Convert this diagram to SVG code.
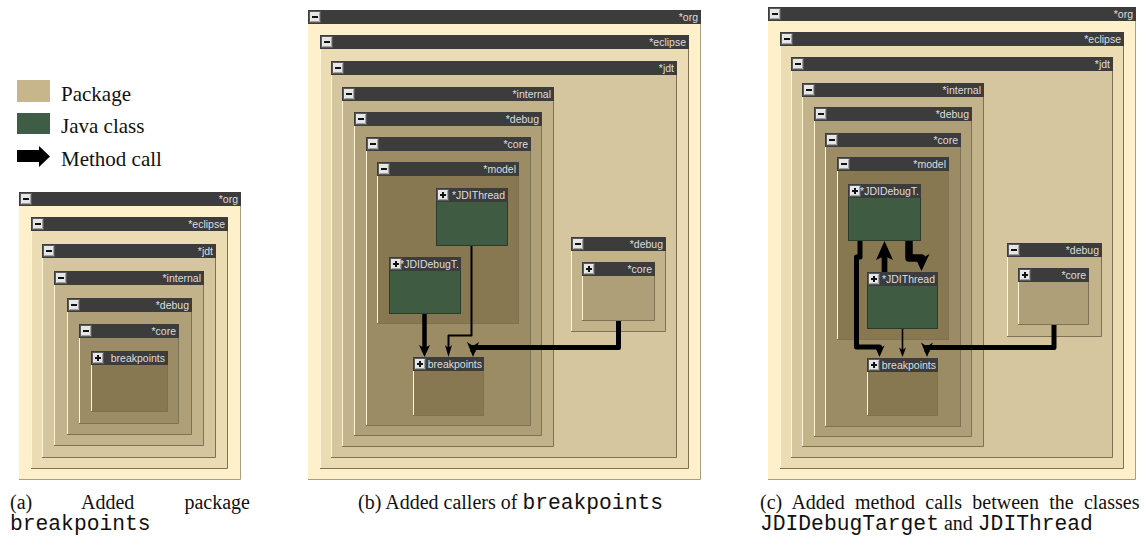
<svg xmlns="http://www.w3.org/2000/svg" xmlns:xlink="http://www.w3.org/1999/xlink" width="1146" height="540" viewBox="0 0 1146 540">
  <style>
    .d0 { fill: #fdf0cb; }
    .d1 { fill: #ecdcb4; }
    .d2 { fill: #d5c6a0; }
    .d3 { fill: #c3b38b; }
    .d4 { fill: #ae9f78; }
    .d5 { fill: #9c8c65; }
    .d6 { fill: #877852; }
    .cls { fill: #3f5c43; }
    .hdr { fill: #3c3c3c; }
    .lt { fill: none; stroke: #fff6d8; stroke-width: 1; }
    .dk { fill: none; stroke: #7e7255; stroke-width: 1; }
    .dk0 { fill: none; stroke: #a89e82; stroke-width: 1; }
    .cdk { fill: none; stroke: #2a3a2c; stroke-width: 1; }
    .lbl { font-family: "Liberation Sans", Arial, sans-serif; font-size: 10.5px; fill: #dedede; text-anchor: end; }
    .wire { fill: none; stroke: #000; stroke-linejoin: round; }
    .head { fill: #000; }
    .key { font-family: "Liberation Serif", "Times New Roman", serif; font-size: 21px; fill: #111; }
    .cap { font-family: "Liberation Serif", "Times New Roman", serif; font-size: 20px; fill: #111; }
    .mono { font-family: "Liberation Mono", "Courier New", monospace; font-size: 21.3px; }
  </style>
  <defs>
    <g id="btn-minus">
      <rect x="0.5" y="0.5" width="11" height="11" fill="#e6e6e6" stroke="#5a5a5a"/>
      <path d="M1.5,10.5H10.5V1.5" fill="none" stroke="#a0a0a0"/>
      <rect x="3" y="5" width="6" height="2" fill="#111"/>
    </g>
    <g id="btn-plus">
      <rect x="0.5" y="0.5" width="11" height="11" fill="#e6e6e6" stroke="#5a5a5a"/>
      <path d="M1.5,10.5H10.5V1.5" fill="none" stroke="#a0a0a0"/>
      <rect x="3" y="5" width="6" height="2" fill="#111"/>
      <rect x="5" y="3" width="2" height="6" fill="#111"/>
    </g>
  </defs>

  <rect width="1146" height="540" fill="#fff"/>

  <!-- legend -->
  <g id="legend">
    <rect x="17" y="80" width="33" height="22" fill="#c7b58b"/>
    <rect x="17" y="113" width="33" height="21" fill="#3f5d45"/>
    <path d="M17,150H39V146L50,156.5L39,167V162H17Z" fill="#000"/>
    <text class="key" x="61" y="101">Package</text>
    <text class="key" x="61" y="133">Java class</text>
    <text class="key" x="61" y="166">Method call</text>
  </g>

  <!-- ===== panel (a) ===== -->
  <g id="a-org">
    <rect class="d0" x="19" y="192" width="222" height="288"/>
    <path class="dk0" d="M19,479.5H240.5V192"/>
    <rect class="hdr" x="19" y="192" width="222" height="14"/>
    <use xlink:href="#btn-minus" x="20" y="193"/>
    <text class="lbl" x="238" y="203">*org</text>
  </g>
  <g id="a-eclipse">
    <rect class="d1" x="31" y="217" width="197" height="252"/>
    <path class="lt" d="M31.5,469V217"/>
    <path class="dk" d="M31,468.5H227.5V217"/>
    <rect class="hdr" x="31" y="217" width="197" height="14"/>
    <use xlink:href="#btn-minus" x="32" y="218"/>
    <text class="lbl" x="225" y="228">*eclipse</text>
  </g>
  <g id="a-jdt">
    <rect class="d2" x="42" y="244" width="174" height="214"/>
    <path class="lt" d="M42.5,458V244"/>
    <path class="dk" d="M42,457.5H215.5V244"/>
    <rect class="hdr" x="42" y="244" width="174" height="14"/>
    <use xlink:href="#btn-minus" x="43" y="245"/>
    <text class="lbl" x="213" y="255">*jdt</text>
  </g>
  <g id="a-internal">
    <rect class="d3" x="54" y="271" width="150" height="175"/>
    <path class="lt" d="M54.5,446V271"/>
    <path class="dk" d="M54,445.5H203.5V271"/>
    <rect class="hdr" x="54" y="271" width="150" height="14"/>
    <use xlink:href="#btn-minus" x="55" y="272"/>
    <text class="lbl" x="201" y="282">*internal</text>
  </g>
  <g id="a-debug">
    <rect class="d4" x="67" y="298" width="125" height="137"/>
    <path class="lt" d="M67.5,435V298"/>
    <path class="dk" d="M67,434.5H191.5V298"/>
    <rect class="hdr" x="67" y="298" width="125" height="14"/>
    <use xlink:href="#btn-minus" x="68" y="299"/>
    <text class="lbl" x="189" y="309">*debug</text>
  </g>
  <g id="a-core">
    <rect class="d5" x="79" y="324" width="100" height="100"/>
    <path class="lt" d="M79.5,424V324"/>
    <path class="dk" d="M79,423.5H178.5V324"/>
    <rect class="hdr" x="79" y="324" width="100" height="14"/>
    <use xlink:href="#btn-minus" x="80" y="325"/>
    <text class="lbl" x="176" y="335">*core</text>
  </g>
  <g id="a-breakpoints">
    <rect class="d6" x="91" y="351" width="77" height="61"/>
    <path class="lt" d="M91.5,412V351"/>
    <path class="dk" d="M91,411.5H167.5V351"/>
    <rect class="hdr" x="91" y="351" width="77" height="14"/>
    <use xlink:href="#btn-plus" x="92" y="352"/>
    <text class="lbl" x="165" y="362">breakpoints</text>
  </g>

  <!-- ===== panel (b) ===== -->
  <g id="b-org">
    <rect class="d0" x="308" y="10" width="393" height="470"/>
    <path class="dk0" d="M308,479.5H700.5V10"/>
    <rect class="hdr" x="308" y="10" width="393" height="14"/>
    <use xlink:href="#btn-minus" x="309" y="11"/>
    <text class="lbl" x="698" y="21">*org</text>
  </g>
  <g id="b-eclipse">
    <rect class="d1" x="320" y="35" width="369" height="434"/>
    <path class="lt" d="M320.5,469V35"/>
    <path class="dk" d="M320,468.5H688.5V35"/>
    <rect class="hdr" x="320" y="35" width="369" height="14"/>
    <use xlink:href="#btn-minus" x="321" y="36"/>
    <text class="lbl" x="686" y="46">*eclipse</text>
  </g>
  <g id="b-jdt">
    <rect class="d2" x="331" y="61" width="346" height="397"/>
    <path class="lt" d="M331.5,458V61"/>
    <path class="dk" d="M331,457.5H676.5V61"/>
    <rect class="hdr" x="331" y="61" width="346" height="14"/>
    <use xlink:href="#btn-minus" x="332" y="62"/>
    <text class="lbl" x="674" y="72">*jdt</text>
  </g>
  <g id="b-internal">
    <rect class="d3" x="342" y="87" width="212" height="360"/>
    <path class="lt" d="M342.5,447V87"/>
    <path class="dk" d="M342,446.5H553.5V87"/>
    <rect class="hdr" x="342" y="87" width="212" height="14"/>
    <use xlink:href="#btn-minus" x="343" y="88"/>
    <text class="lbl" x="551" y="98">*internal</text>
  </g>
  <g id="b-debug">
    <rect class="d4" x="354" y="112" width="188" height="324"/>
    <path class="lt" d="M354.5,436V112"/>
    <path class="dk" d="M354,435.5H541.5V112"/>
    <rect class="hdr" x="354" y="112" width="188" height="14"/>
    <use xlink:href="#btn-minus" x="355" y="113"/>
    <text class="lbl" x="539" y="123">*debug</text>
  </g>
  <g id="b-core">
    <rect class="d5" x="366" y="137" width="165" height="289"/>
    <path class="lt" d="M366.5,426V137"/>
    <path class="dk" d="M366,425.5H530.5V137"/>
    <rect class="hdr" x="366" y="137" width="165" height="14"/>
    <use xlink:href="#btn-minus" x="367" y="138"/>
    <text class="lbl" x="528" y="148">*core</text>
  </g>
  <g id="b-model">
    <rect class="d6" x="377" y="162" width="142" height="162"/>
    <path class="lt" d="M377.5,324V162"/>
    <path class="dk" d="M377,323.5H518.5V162"/>
    <rect class="hdr" x="377" y="162" width="142" height="14"/>
    <use xlink:href="#btn-minus" x="378" y="163"/>
    <text class="lbl" x="516" y="173">*model</text>
  </g>
  <g id="b-JDIThread">
    <rect class="cls" x="436" y="188" width="72" height="58"/>
    <path class="cdk" d="M436.5,246V188.5H508"/>
    <path class="cdk" d="M436,245.5H507.5V188"/>
    <rect class="hdr" x="436" y="188" width="72" height="14"/>
    <use xlink:href="#btn-plus" x="437" y="189"/>
    <text class="lbl" x="505" y="199">*JDIThread</text>
  </g>
  <g id="b-JDIDebugTarget">
    <rect class="cls" x="389" y="257" width="72" height="57"/>
    <path class="cdk" d="M389.5,314V257.5H461"/>
    <path class="cdk" d="M389,313.5H460.5V257"/>
    <rect class="hdr" x="389" y="257" width="72" height="14"/>
    <use xlink:href="#btn-plus" x="390" y="258"/>
    <text class="lbl" x="459" y="268">*JDIDebugT.</text>
  </g>
  <g id="b-breakpoints">
    <rect class="d6" x="413" y="357" width="71" height="59"/>
    <path class="lt" d="M413.5,416V357"/>
    <path class="dk" d="M413,415.5H483.5V357"/>
    <rect class="hdr" x="413" y="357" width="71" height="14"/>
    <use xlink:href="#btn-plus" x="414" y="358"/>
    <text class="lbl" x="482" y="368">breakpoints</text>
  </g>
  <g id="b-debug2">
    <rect class="d3" x="571" y="237" width="95" height="95"/>
    <path class="lt" d="M571.5,332V237"/>
    <path class="dk" d="M571,331.5H665.5V237"/>
    <rect class="hdr" x="571" y="237" width="95" height="14"/>
    <use xlink:href="#btn-minus" x="572" y="238"/>
    <text class="lbl" x="663" y="248">*debug</text>
  </g>
  <g id="b-core2">
    <rect class="d4" x="582" y="262" width="73" height="59"/>
    <path class="lt" d="M582.5,321V262"/>
    <path class="dk" d="M582,320.5H654.5V262"/>
    <rect class="hdr" x="582" y="262" width="73" height="14"/>
    <use xlink:href="#btn-plus" x="583" y="263"/>
    <text class="lbl" x="652" y="273">*core</text>
  </g>

  <!-- ===== panel (c) ===== -->
  <g id="c-org">
    <rect class="d0" x="768" y="7" width="368" height="473"/>
    <path class="dk0" d="M768,479.5H1135.5V7"/>
    <rect class="hdr" x="768" y="7" width="368" height="14"/>
    <use xlink:href="#btn-minus" x="769" y="8"/>
    <text class="lbl" x="1133" y="18">*org</text>
  </g>
  <g id="c-eclipse">
    <rect class="d1" x="780" y="32" width="344" height="437"/>
    <path class="lt" d="M780.5,469V32"/>
    <path class="dk" d="M780,468.5H1123.5V32"/>
    <rect class="hdr" x="780" y="32" width="344" height="14"/>
    <use xlink:href="#btn-minus" x="781" y="33"/>
    <text class="lbl" x="1121" y="43">*eclipse</text>
  </g>
  <g id="c-jdt">
    <rect class="d2" x="791" y="57" width="322" height="401"/>
    <path class="lt" d="M791.5,458V57"/>
    <path class="dk" d="M791,457.5H1112.5V57"/>
    <rect class="hdr" x="791" y="57" width="322" height="14"/>
    <use xlink:href="#btn-minus" x="792" y="58"/>
    <text class="lbl" x="1110" y="68">*jdt</text>
  </g>
  <g id="c-internal">
    <rect class="d3" x="802" y="83" width="182" height="364"/>
    <path class="lt" d="M802.5,447V83"/>
    <path class="dk" d="M802,446.5H983.5V83"/>
    <rect class="hdr" x="802" y="83" width="182" height="14"/>
    <use xlink:href="#btn-minus" x="803" y="84"/>
    <text class="lbl" x="981" y="94">*internal</text>
  </g>
  <g id="c-debug">
    <rect class="d4" x="814" y="107" width="158" height="330"/>
    <path class="lt" d="M814.5,437V107"/>
    <path class="dk" d="M814,436.5H971.5V107"/>
    <rect class="hdr" x="814" y="107" width="158" height="14"/>
    <use xlink:href="#btn-minus" x="815" y="108"/>
    <text class="lbl" x="969" y="118">*debug</text>
  </g>
  <g id="c-core">
    <rect class="d5" x="825" y="133" width="136" height="294"/>
    <path class="lt" d="M825.5,427V133"/>
    <path class="dk" d="M825,426.5H960.5V133"/>
    <rect class="hdr" x="825" y="133" width="136" height="14"/>
    <use xlink:href="#btn-minus" x="826" y="134"/>
    <text class="lbl" x="958" y="144">*core</text>
  </g>
  <g id="c-model">
    <rect class="d6" x="837" y="157" width="112" height="183"/>
    <path class="lt" d="M837.5,340V157"/>
    <path class="dk" d="M837,339.5H948.5V157"/>
    <rect class="hdr" x="837" y="157" width="112" height="14"/>
    <use xlink:href="#btn-minus" x="838" y="158"/>
    <text class="lbl" x="946" y="168">*model</text>
  </g>
  <g id="c-JDIDebugTarget">
    <rect class="cls" x="848" y="184" width="73" height="57"/>
    <path class="cdk" d="M848.5,241V184.5H921"/>
    <path class="cdk" d="M848,240.5H920.5V184"/>
    <rect class="hdr" x="848" y="184" width="73" height="14"/>
    <use xlink:href="#btn-plus" x="849" y="185"/>
    <text class="lbl" x="919" y="195">*JDIDebugT.</text>
  </g>
  <g id="c-JDIThread">
    <rect class="cls" x="867" y="272" width="71" height="57"/>
    <path class="cdk" d="M867.5,329V272.5H938"/>
    <path class="cdk" d="M867,328.5H937.5V272"/>
    <rect class="hdr" x="867" y="272" width="71" height="14"/>
    <use xlink:href="#btn-plus" x="868" y="273"/>
    <text class="lbl" x="935" y="283">*JDIThread</text>
  </g>
  <g id="c-breakpoints">
    <rect class="d6" x="867" y="358" width="71" height="58"/>
    <path class="lt" d="M867.5,416V358"/>
    <path class="dk" d="M867,415.5H937.5V358"/>
    <rect class="hdr" x="867" y="358" width="71" height="14"/>
    <use xlink:href="#btn-plus" x="868" y="359"/>
    <text class="lbl" x="936" y="369">breakpoints</text>
  </g>
  <g id="c-debug2">
    <rect class="d3" x="1007" y="243" width="95" height="94"/>
    <path class="lt" d="M1007.5,337V243"/>
    <path class="dk" d="M1007,336.5H1101.5V243"/>
    <rect class="hdr" x="1007" y="243" width="95" height="14"/>
    <use xlink:href="#btn-minus" x="1008" y="244"/>
    <text class="lbl" x="1099" y="254">*debug</text>
  </g>
  <g id="c-core2">
    <rect class="d4" x="1018" y="268" width="71" height="57"/>
    <path class="lt" d="M1018.5,325V268"/>
    <path class="dk" d="M1018,324.5H1088.5V268"/>
    <rect class="hdr" x="1018" y="268" width="71" height="14"/>
    <use xlink:href="#btn-plus" x="1019" y="269"/>
    <text class="lbl" x="1086" y="279">*core</text>
  </g>

  <!-- method-call connectors -->
  <g id="connectors">
    <!-- (b) -->
    <path class="wire" stroke-width="4.5" d="M424.5,314V349"/>
    <path class="head" d="M424.5,357L419,345L424.5,348L430,345Z"/>
    <path class="wire" stroke-width="2" d="M471.5,246V335.5H448.5V350"/>
    <path class="head" d="M448.5,357L445,345L448.5,348L452,345Z"/>
    <path class="wire" stroke-width="5" d="M618.5,321V347.5H473V352"/>
    <path class="head" d="M473,357L467,342L473,346L479,342Z"/>
    <!-- (c) -->
    <path class="wire" stroke-width="5" d="M860,241V257H856.5V347H879.5V350"/>
    <path class="head" d="M879.5,357L874.5,345.5L879.5,348.5L884.5,345.5Z"/>
    <path class="wire" stroke-width="5.7" d="M884.5,272V254"/>
    <path class="head" d="M884.5,241L876,260L884.5,256L893,260Z"/>
    <path class="wire" stroke-width="7.5" d="M909,241V258H921.5V262"/>
    <path class="head" d="M921.5,271L913.5,254L921.5,258.5L929.5,254Z"/>
    <path class="wire" stroke-width="1.6" d="M902.5,329V350"/>
    <path class="head" d="M902.5,357L899,347.5L902.5,350L906,347.5Z"/>
    <path class="wire" stroke-width="5" d="M1054,325V347.5H927V352"/>
    <path class="head" d="M927,357L921,342.5L927,346.5L933,342.5Z"/>
  </g>

  <!-- captions -->
  <g id="captions">
    <text class="cap" y="509"><tspan x="10">(a)</tspan><tspan x="81">Added</tspan><tspan x="250" text-anchor="end">package</tspan></text>
    <text class="cap mono" x="10" y="530">breakpoints</text>
    <text class="cap" x="358" y="509">(b) Added callers of <tspan class="mono">breakpoints</tspan></text>
    <text class="cap" x="760" y="509" word-spacing="5.3">(c) Added method calls between the classes</text>
    <text class="cap" x="760" y="530"><tspan class="mono">JDIDebugTarget</tspan> and <tspan class="mono">JDIThread</tspan></text>
  </g>
</svg>
